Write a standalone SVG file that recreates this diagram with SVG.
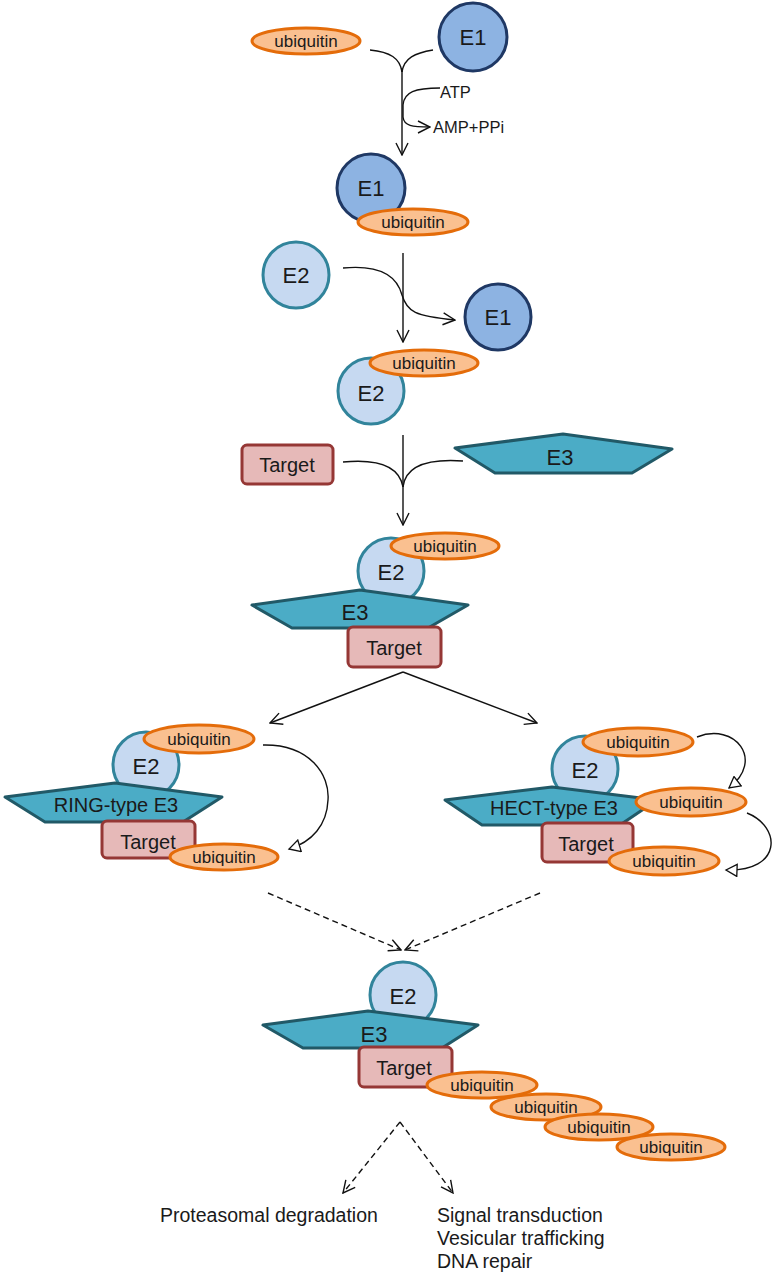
<svg xmlns="http://www.w3.org/2000/svg" width="777" height="1278" viewBox="0 0 777 1278">
<style>
.ub{fill:#FAC090;stroke:#E46C0A;stroke-width:3}
.e1{fill:#8DB3E2;stroke:#1F3864;stroke-width:3}
.e2{fill:#C6D9F1;stroke:#31849B;stroke-width:3}
.e3{fill:#4BACC6;stroke:#215967;stroke-width:3;stroke-linejoin:round}
.tg{fill:#E6B9B8;stroke:#953735;stroke-width:3}
text{font-family:"Liberation Sans",Arial,sans-serif;fill:#1a1a1a;text-anchor:middle}
.tu{font-size:17px}
.tb{font-size:22px}
.tt{font-size:20px}
.tl{font-size:19.5px;text-anchor:start}
.ts{font-size:16.5px;text-anchor:start}
.c{fill:none;stroke:#111;stroke-width:1.4}
.d{stroke-dasharray:6,4}
</style>
<defs>
<marker id="v" viewBox="0 0 10 10" refX="9" refY="5" markerWidth="10" markerHeight="10" markerUnits="userSpaceOnUse" orient="auto">
<path d="M1,1 L9,5 L1,9" fill="none" stroke="#111" stroke-width="1.4"/>
</marker>
<marker id="vb" viewBox="0 0 14 14" refX="13" refY="7" markerWidth="14" markerHeight="14" markerUnits="userSpaceOnUse" orient="auto">
<path d="M1,1 L13,7 L1,13" fill="none" stroke="#111" stroke-width="1.4"/>
</marker>
<marker id="tri" viewBox="0 0 14 14" refX="12" refY="7" markerWidth="14" markerHeight="14" markerUnits="userSpaceOnUse" orient="auto">
<path d="M1,1 L12,7 L1,13 Z" fill="#fff" stroke="#111" stroke-width="1.3"/>
</marker>
</defs>

<g id="connectors">
<path class="c" d="M370,50 C390,52 400,58 402,72"/>
<path class="c" d="M433,50 C415,53 404,58 402,72"/>
<path class="c" d="M402,68 L402,155" marker-end="url(#vb)"/>
<path class="c" d="M440,88 C415,88 404,92 403,105 L403,117 C404,126 412,127 430,127" marker-end="url(#vb)"/>
<path class="c" d="M403,253 L403,342" marker-end="url(#vb)"/>
<path class="c" d="M343,268 C385,264 398,280 402,295 C407,312 415,316 455,320" marker-end="url(#vb)"/>
<path class="c" d="M343,462 C385,458 400,470 403,487"/>
<path class="c" d="M463,461 C420,458 405,470 403,487"/>
<path class="c" d="M403,435 L403,525" marker-end="url(#vb)"/>
<path class="c" d="M403,672 L270,723" marker-end="url(#vb)"/>
<path class="c" d="M403,672 L537,723" marker-end="url(#vb)"/>
<path class="c" d="M263,745 C310,744 330,775 328,800 C327,825 312,842 289,849" marker-end="url(#tri)"/>
<path class="c" d="M697,737 C735,722 765,760 729,788" marker-end="url(#tri)"/>
<path class="c" d="M747,813 C782,827 782,872 726,870" marker-end="url(#tri)"/>
<path class="c d" d="M268,893 L401,950" marker-end="url(#vb)"/>
<path class="c d" d="M540,893 L405,950" marker-end="url(#vb)"/>
<path class="c d" d="M400,1122 L343,1193" marker-end="url(#vb)"/>
<path class="c d" d="M400,1122 L453,1193" marker-end="url(#vb)"/>
<text class="ts" x="440" y="98">ATP</text>
<text class="ts" x="433" y="133">AMP+PPi</text>
</g>

<g id="ubiquitin-free">
<ellipse class="ub" cx="306" cy="41" rx="54" ry="13"/>
<text class="tu" x="306" y="47">ubiquitin</text>
</g>
<g id="e1-free">
<circle class="e1" cx="473" cy="37" r="34"/>
<text class="tb" x="473" y="45">E1</text>
</g>

<g id="e1-ubiquitin">
<circle class="e1" cx="371" cy="188" r="34"/>
<text class="tb" x="371" y="196">E1</text>
<ellipse class="ub" cx="413" cy="222" rx="55" ry="13"/>
<text class="tu" x="413" y="228">ubiquitin</text>
</g>

<g id="e2-free">
<circle class="e2" cx="296" cy="275" r="33"/>
<text class="tb" x="296" y="283">E2</text>
</g>
<g id="e1-released">
<circle class="e1" cx="498" cy="317" r="33"/>
<text class="tb" x="498" y="325">E1</text>
</g>

<g id="e2-ubiquitin">
<circle class="e2" cx="371" cy="391" r="33"/>
<text class="tb" x="371" y="401">E2</text>
<ellipse class="ub" cx="424" cy="363" rx="54" ry="13"/>
<text class="tu" x="424" y="369">ubiquitin</text>
</g>

<g id="target-free">
<rect class="tg" x="242" y="445" width="91" height="39" rx="5"/>
<text class="tt" x="287" y="472">Target</text>
</g>
<g id="e3-free">
<polygon class="e3" points="455,448 563,434 672,449 632,473 495,473"/>
<text class="tb" x="560" y="465">E3</text>
</g>

<g id="e2-e3-target">
<circle class="e2" cx="391" cy="571" r="33"/>
<text class="tb" x="391" y="580">E2</text>
<ellipse class="ub" cx="445" cy="546" rx="54" ry="13"/>
<text class="tu" x="445" y="552">ubiquitin</text>
<polygon class="e3" points="252,605 360,590 468,605 428,628 292,628"/>
<text class="tb" x="355" y="620">E3</text>
<rect class="tg" x="348" y="627" width="93" height="40" rx="5"/>
<text class="tt" x="394" y="655">Target</text>
</g>

<g id="ring-type">
<circle class="e2" cx="146" cy="765" r="33"/>
<text class="tb" x="146" y="774">E2</text>
<ellipse class="ub" cx="199" cy="739" rx="55" ry="14"/>
<text class="tu" x="199" y="745">ubiquitin</text>
<polygon class="e3" points="5,797 115,783 222,797 183,822 45,822"/>
<text class="tt" x="116" y="812">RING-type E3</text>
<rect class="tg" x="102" y="821" width="93" height="37" rx="5"/>
<text class="tt" x="148" y="849">Target</text>
<ellipse class="ub" cx="224" cy="857" rx="54" ry="13"/>
<text class="tu" x="224" y="863">ubiquitin</text>
</g>

<g id="hect-type">
<circle class="e2" cx="585" cy="769" r="33"/>
<text class="tb" x="585" y="778">E2</text>
<ellipse class="ub" cx="638" cy="742" rx="55" ry="14"/>
<text class="tu" x="638" y="748">ubiquitin</text>
<polygon class="e3" points="445,800 552,787 657,800 620,825 482,825"/>
<text class="tt" x="554" y="815">HECT-type E3</text>
<ellipse class="ub" cx="691" cy="802" rx="55" ry="14"/>
<text class="tu" x="691" y="808">ubiquitin</text>
<rect class="tg" x="542" y="823" width="91" height="39" rx="5"/>
<text class="tt" x="586" y="851">Target</text>
<ellipse class="ub" cx="664" cy="861" rx="55" ry="14"/>
<text class="tu" x="664" y="867">ubiquitin</text>
</g>

<g id="polyubiquitinated">
<circle class="e2" cx="403" cy="995" r="33"/>
<text class="tb" x="403" y="1004">E2</text>
<polygon class="e3" points="263,1025 368,1011 478,1025 442,1048 303,1048"/>
<text class="tb" x="374" y="1042">E3</text>
<rect class="tg" x="359" y="1047" width="93" height="40" rx="5"/>
<text class="tt" x="404" y="1075">Target</text>
<ellipse class="ub" cx="482" cy="1085" rx="55" ry="13"/>
<text class="tu" x="482" y="1091">ubiquitin</text>
<ellipse class="ub" cx="546" cy="1107" rx="55" ry="13"/>
<text class="tu" x="546" y="1113">ubiquitin</text>
<ellipse class="ub" cx="599" cy="1127" rx="54" ry="13"/>
<text class="tu" x="599" y="1133">ubiquitin</text>
<ellipse class="ub" cx="671" cy="1147" rx="54" ry="13"/>
<text class="tu" x="671" y="1153">ubiquitin</text>
</g>

<g id="outcome-proteasomal">
<text class="tl" x="160" y="1222">Proteasomal degradation</text>
</g>
<g id="outcome-signaling">
<text class="tl" x="437" y="1222">Signal transduction</text>
<text class="tl" x="437" y="1245">Vesicular trafficking</text>
<text class="tl" x="437" y="1268">DNA repair</text>
</g>
</svg>
